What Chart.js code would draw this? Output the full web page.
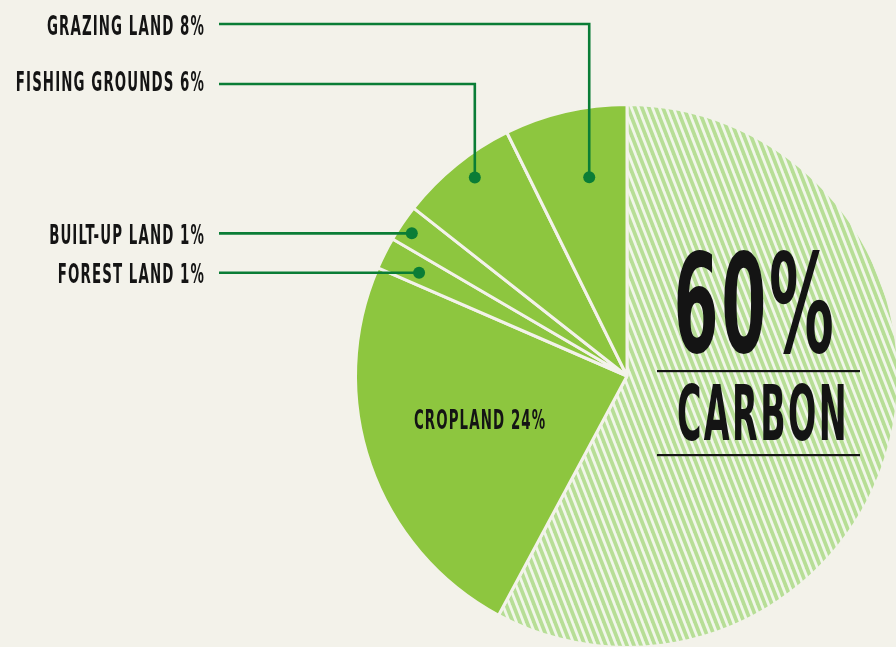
<!DOCTYPE html>
<html>
<head>
<meta charset="utf-8">
<script src="https://cdn.jsdelivr.net/npm/chart.js@4.4.1/dist/chart.umd.min.js"></script>
<style>
  html, body { margin: 0; padding: 0; overflow: hidden; background: #f3f2ea; }
  #footprint { position: absolute; left: 0; top: 0; }
</style>
</head>
<body>
<canvas id="footprint" width="900" height="650"></canvas>
<script>
// Slices, clockwise from the top
const categories = ['Carbon', 'Cropland', 'Forest land', 'Built-up land', 'Fishing grounds', 'Grazing land'];
// Percentages printed on the chart
const printedShares = [60, 24, 1, 1, 6, 8];
// Slice sizes as drawn in the picture
const sliceShares = [57.9, 23.7, 1.9, 2.2, 7.1, 7.3];

// Where the leader dots sit inside their slice (fraction of angle, fraction of radius)
const dotAngleFrac = [null, null, 0.43, 0.41, 0.56, 0.59];
const dotRadiusFrac = [null, null, 0.855, 0.951, 0.921, 0.745];
// Rows for the labels that run up to the top left (null = straight across at the dot)
const leaderRowY = [null, null, null, null, 84, 24];
const labelCapMid = [null, null, null, null, 80.5, 25];

const BG = '#f3f2ea';
const GREEN = '#8dc63f';
const DARK = '#0a7d36';
const INK = '#141414';
const FONT = "'Liberation Sans Narrow', 'DejaVu Sans Condensed', 'DejaVu Sans', sans-serif";

// Hatched fill for the carbon slice
function makeHatch() {
  const tile = document.createElement('canvas');
  tile.width = 7;
  tile.height = 18;
  const g = tile.getContext('2d');
  g.fillStyle = '#b7de96';
  g.fillRect(0, 0, 7, 18);
  g.fillStyle = '#f1f6ea';
  [-7, 0, 7].forEach(k => {
    g.beginPath();
    g.moveTo(k, 0);
    g.lineTo(k + 3, 0);
    g.lineTo(k + 10, 18);
    g.lineTo(k + 7, 18);
    g.closePath();
    g.fill();
  });
  return g.createPattern(tile, 'repeat');
}

function pointOn(arc, aFrac, rFrac) {
  const a = arc.startAngle + aFrac * (arc.endAngle - arc.startAngle);
  const r = rFrac * arc.outerRadius;
  return { x: arc.x + r * Math.cos(a), y: arc.y + r * Math.sin(a) };
}

function labelText(i) {
  return categories[i].toUpperCase() + ' ' + printedShares[i] + '%';
}

// squeeze the label font so it looks like the condensed face in the picture
function squeezed(ctx, text, x, y, sx, align) {
  ctx.save();
  ctx.textAlign = align;
  ctx.translate(x, y);
  ctx.scale(sx, 1);
  ctx.fillText(text, 0, 0);
  ctx.restore();
}

const annotations = {
  id: 'annotations',
  afterDatasetsDraw(chart) {
    const ctx = chart.ctx;
    const arcs = chart.getDatasetMeta(0).data;
    const cx = arcs[0].x, cy = arcs[0].y;

    ctx.save();
    ctx.font = 'bold 27px ' + FONT;
    ctx.letterSpacing = '2px';
    const sx = 158 / ctx.measureText(labelText(5)).width;
    ctx.fillStyle = INK;
    ctx.textBaseline = 'alphabetic';

    // leader labels
    for (let i = 2; i < categories.length; i++) {
      const dot = pointOn(arcs[i], dotAngleFrac[i], dotRadiusFrac[i]);
      const rowY = leaderRowY[i] === null ? dot.y : leaderRowY[i];
      const capMid = labelCapMid[i] === null ? dot.y + 0.5 : labelCapMid[i];

      ctx.strokeStyle = DARK;
      ctx.lineWidth = 2.6;
      ctx.beginPath();
      ctx.moveTo(219, rowY);
      ctx.lineTo(dot.x, rowY);
      ctx.lineTo(dot.x, dot.y);
      ctx.stroke();

      ctx.fillStyle = DARK;
      ctx.beginPath();
      ctx.arc(dot.x, dot.y, 6, 0, Math.PI * 2);
      ctx.fill();

      ctx.fillStyle = INK;
      squeezed(ctx, labelText(i), 205, capMid + 10, sx, 'right');
    }

    // cropland label inside its slice
    const crop = pointOn(arcs[1], 0.533, 0.564);
    squeezed(ctx, labelText(1), crop.x, crop.y + 10, sx, 'center');

    // big carbon callout
    ctx.textAlign = 'center';
    ctx.letterSpacing = '5px';
    ctx.font = 'bold 137px ' + FONT;
    ctx.fillText(printedShares[0] + '%', cx + 128, cy - 24, 163);
    ctx.letterSpacing = '5px';
    ctx.font = 'bold 76px ' + FONT;
    ctx.fillText(categories[0].toUpperCase(), cx + 136, cy + 64, 172);
    ctx.letterSpacing = '0px';

    ctx.fillStyle = INK;
    ctx.fillRect(cx + 30, cy - 6, 203, 2.2);
    ctx.fillRect(cx + 30, cy + 78, 203, 2.2);
    ctx.restore();
  }
};

const ctx = document.getElementById('footprint').getContext('2d');

new Chart(ctx, {
  type: 'pie',
  data: {
    labels: categories,
    datasets: [{
      data: sliceShares,
      backgroundColor: [makeHatch(), GREEN, GREEN, GREEN, GREEN, GREEN],
      borderColor: BG,
      borderWidth: 3
    }]
  },
  options: {
    responsive: false,
    animation: false,
    devicePixelRatio: 1,
    layout: { padding: { left: 354, top: 103, right: 0, bottom: 1 } },
    plugins: {
      legend: { display: false },
      tooltip: { enabled: false }
    }
  },
  plugins: [annotations]
});
</script>
</body>
</html>
